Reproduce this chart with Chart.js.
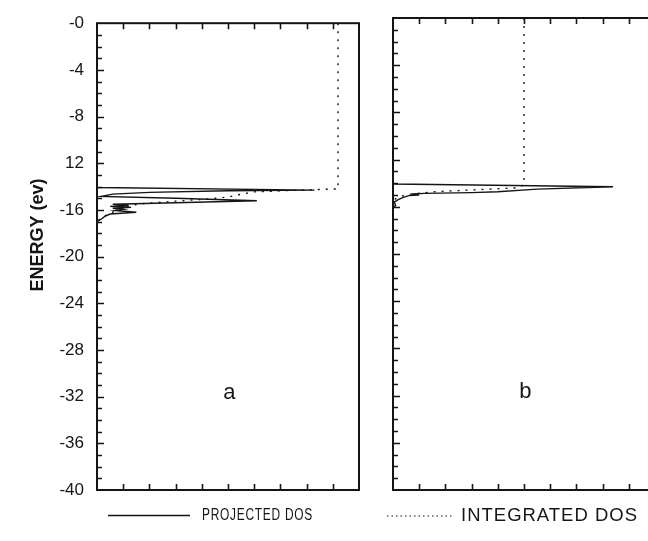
<!DOCTYPE html>
<html>
<head>
<meta charset="utf-8">
<script src="https://cdn.jsdelivr.net/npm/chart.js@4.4.1/dist/chart.umd.min.js"></script>
<style>
  html, body { margin: 0; padding: 0; background: #fff; }
  body { width: 648px; height: 541px; overflow: hidden; position: relative; }
  canvas { position: absolute; left: 0; top: 0; }
</style>
</head>
<body>
<canvas id="dosA" width="680" height="541"></canvas>
<canvas id="dosB" width="680" height="541"></canvas>
<script>
// values; DOS in plot units (0-10 across a panel), energy in eV
var energyProjA = [0, -14.08, -14.3, -14.36, -14.5, -14.65, -14.85, -15.0, -15.22, -15.38, -15.52, -15.62, -15.7, -15.78, -15.86, -15.95, -16.05, -16.2, -16.35, -16.55, -16.8, -17.0, -40];
var dosProjA    = [0, 0, 8.3, 5.0, 2.0, 0.6, 0.15, 3.0, 6.1, 3.0, 0.6, 1.2, 0.5, 1.3, 0.6, 1.0, 0.7, 1.5, 0.5, 0.3, 0.15, 0, 0];
var energyIntA  = [0, -14.2, -14.3, -14.45, -14.7, -14.9, -15.1, -15.25, -15.45, -15.6, -15.9, -16.2, -16.6, -17.0, -40];
var dosIntA     = [9.2, 9.2, 7.8, 6.0, 5.4, 5.0, 4.0, 3.0, 1.8, 1.3, 0.9, 0.6, 0.2, 0, 0];

var energyProjB = [0, -14.07, -14.3, -14.5, -14.72, -14.8, -14.86, -14.92, -15.0, -15.05, -15.2, -15.4, -15.6, -15.9, -16.05, -16.2, -40];
var dosProjB    = [0, 0, 8.4, 5.5, 4.0, 3.0, 1.2, 0.7, 1.0, 0.6, 0.4, 0.2, 0.05, 0.1, 0, 0, 0];
var energyIntB  = [0, -14.15, -14.4, -14.55, -14.72, -14.85, -14.98, -15.2, -15.45, -40];
var dosIntB     = [5.0, 5.0, 4.7, 3.2, 1.6, 1.0, 0.5, 0.2, 0, 0];

var yTickValues = [0, -4, -8, -12, -16, -20, -24, -28, -32, -36, -40];
var yTickLabels = ['-0', '-4', '-8', '12', '-16', '-20', '-24', '-28', '-32', '-36', '-40'];
var panelNames = ['a', 'b'];
var legendNames = ['PROJECTED DOS', 'INTEGRATED DOS'];
var yTitle = 'ENERGY (ev)';

var ink = '#151515';

function toPoints(e, v) {
  var pts = [];
  for (var i = 0; i < e.length; i++) pts.push({ x: v[i], y: e[i] });
  return pts;
}

// text fitted to a width: condensed lettering with a little spacing
function fittedText(ctx, str, x, y, width) {
  ctx.letterSpacing = '1px';
  var w = ctx.measureText(str).width;
  ctx.save();
  ctx.translate(x, y);
  ctx.scale(width / w, 1);
  ctx.fillText(str, 0, 0);
  ctx.restore();
  ctx.letterSpacing = '0px';
}

var framePlugin = {
  id: 'frame',
  afterDraw: function(chart, args, opts) {
    var ctx = chart.ctx, a = chart.chartArea;
    var xs = chart.scales.x, ys = chart.scales.y;
    ctx.save();
    ctx.strokeStyle = ink;
    ctx.lineWidth = 2;
    ctx.strokeRect(a.left, a.top, a.right - a.left, a.bottom - a.top);

    // inward ticks: every eV on the left, every unit top and bottom
    ctx.lineWidth = 1.6;
    ctx.beginPath();
    for (var e = -39; e <= -1; e++) {
      var py = Math.round(ys.getPixelForValue(e)) + 0.5;
      var len = (e % 4 === 0) ? 7 : 5;
      ctx.moveTo(a.left, py);
      ctx.lineTo(a.left + len, py);
    }
    for (var d = 1; d <= 9; d++) {
      var px = Math.round(xs.getPixelForValue(d)) + 0.5;
      ctx.moveTo(px, a.top);
      ctx.lineTo(px, a.top + 6);
      ctx.moveTo(px, a.bottom);
      ctx.lineTo(px, a.bottom - 6);
    }
    ctx.stroke();

    ctx.fillStyle = ink;
    ctx.font = '22px "Liberation Sans"';
    ctx.textAlign = 'center';
    ctx.textBaseline = 'middle';
    ctx.fillText(opts.letter, xs.getPixelForValue(5.05), ys.getPixelForValue(-31.7));

    if (opts.extras) {
      // axis title
      ctx.save();
      ctx.translate(38, 235);
      ctx.rotate(-Math.PI / 2);
      ctx.font = 'bold 18px "Liberation Sans"';
      ctx.fillText(yTitle, 0, 0);
      ctx.restore();

      // legend
      ctx.textAlign = 'left';
      ctx.lineWidth = 1.5;
      ctx.beginPath();
      ctx.moveTo(108, 515.5);
      ctx.lineTo(190, 515.5);
      ctx.stroke();
      ctx.font = '16px "Liberation Sans"';
      fittedText(ctx, legendNames[0], 202, 516, 111);

      ctx.setLineDash([1.5, 3]);
      ctx.lineWidth = 1.2;
      ctx.beginPath();
      ctx.moveTo(387, 516);
      ctx.lineTo(453, 516);
      ctx.stroke();
      ctx.setLineDash([]);
      ctx.font = '18px "Liberation Sans"';
      fittedText(ctx, legendNames[1], 461, 516, 177);
    }
    ctx.restore();
  }
};

function makePanel(id, projE, projV, intE, intV, letter, pad, extras) {
  var yScale = {
    type: 'linear', min: -40, max: 0,
    grid: { display: false, drawTicks: false },
    border: { display: false }
  };
  if (extras) {
    yScale.afterFit = function(s) { s.width = 97; };
    yScale.ticks = {
      stepSize: 4, autoSkip: false, padding: 13, color: ink,
      font: { family: 'Liberation Sans', size: 17 },
      callback: function(v) {
        var k = yTickValues.indexOf(v);
        return k < 0 ? '' : yTickLabels[k];
      }
    };
  } else {
    yScale.display = false;
  }

  return new Chart(document.getElementById(id), {
    type: 'scatter',
    data: {
      datasets: [
        {
          label: legendNames[1],
          data: toPoints(intE, intV),
          showLine: true, pointRadius: 0, tension: 0,
          borderColor: ink, borderWidth: 1.4, borderDash: [2, 6]
        },
        {
          label: legendNames[0],
          data: toPoints(projE, projV),
          showLine: true, pointRadius: 0, tension: 0,
          borderColor: ink, borderWidth: 1.4
        }
      ]
    },
    options: {
      responsive: false,
      animation: false,
      layout: { padding: pad },
      plugins: {
        legend: { display: false },
        tooltip: { enabled: false },
        frame: { letter: letter, extras: extras }
      },
      scales: {
        x: { type: 'linear', min: 0, max: 10, display: false },
        y: yScale
      }
    },
    plugins: [framePlugin]
  });
}

var chartA = makePanel('dosA', energyProjA, dosProjA, energyIntA, dosIntA, panelNames[0],
  { left: 0, right: 321, top: 18, bottom: 51 }, true);
var chartB = makePanel('dosB', energyProjB, dosProjB, energyIntB, dosIntB, panelNames[1],
  { left: 393, right: 25, top: 18, bottom: 51 }, false);
</script>
</body>
</html>
